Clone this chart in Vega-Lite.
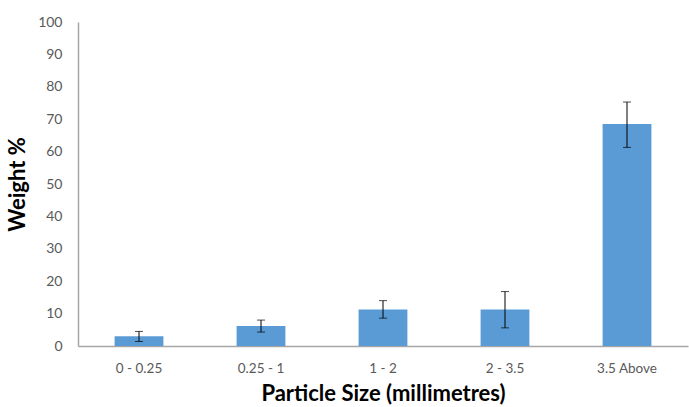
{
  "$schema": "https://vega.github.io/schema/vega-lite/v6.json",
  "autosize": "none",
  "width": 610,
  "height": 324,
  "padding": {"left": 78, "top": 22, "right": 1, "bottom": 61},
  "background": "white",
  "config": {
    "view": {"stroke": null},
    "font": "Lato",
    "axis": {"grid": false, "ticks": false, "domainColor": "#a6a6a6", "domainWidth": 1.5, "labelColor": "#595959", "titleColor": "#000000", "labelFont": "Lato", "titleFont": "Lato", "labelOverlap": false}
  },
  "data": {
    "values": [
      {"size": "0 - 0.25", "weight": 3.0, "lo": 1.4, "hi": 4.5},
      {"size": "0.25 - 1", "weight": 6.2, "lo": 4.3, "hi": 8.0},
      {"size": "1 - 2", "weight": 11.3, "lo": 8.6, "hi": 14.0},
      {"size": "2 - 3.5", "weight": 11.3, "lo": 5.6, "hi": 16.8},
      {"size": "3.5 Above", "weight": 68.5, "lo": 61.3, "hi": 75.3}
    ]
  },
  "encoding": {
    "x": {
      "field": "size", "type": "nominal", "sort": null,
      "scale": {"paddingInner": 0.6, "paddingOuter": 0.3},
      "axis": {"labelAngle": 0, "labelFontSize": 13.5, "labelPadding": 15, "title": "Particle Size (millimetres)", "titleFontSize": 22, "titleFontWeight": "bold", "titlePadding": 9}
    }
  },
  "layer": [
    {
      "mark": {"type": "bar", "color": "#5b9bd5"},
      "encoding": {
        "y": {
          "field": "weight", "type": "quantitative",
          "scale": {"domain": [0, 100], "nice": false},
          "axis": {"values": [0,10,20,30,40,50,60,70,80,90,100], "labelFontSize": 14, "labelPadding": 16, "title": "Weight %", "titleFontSize": 22, "titleFontWeight": "bold", "titlePadding": 8}
        }
      }
    },
    {
      "mark": {"type": "rule", "color": "#000000", "strokeWidth": 1},
      "encoding": {
        "y": {"field": "lo", "type": "quantitative", "axis": {"values": [0,10,20,30,40,50,60,70,80,90,100], "labelFontSize": 14, "labelPadding": 16, "title": "Weight %", "titleFontSize": 22, "titleFontWeight": "bold", "titlePadding": 8}},
        "y2": {"field": "hi"}
      }
    },
    {
      "mark": {"type": "tick", "color": "#000000", "thickness": 1, "size": 8, "orient": "horizontal"},
      "encoding": {"y": {"field": "lo", "type": "quantitative", "axis": {"values": [0,10,20,30,40,50,60,70,80,90,100], "labelFontSize": 14, "labelPadding": 16, "title": "Weight %", "titleFontSize": 22, "titleFontWeight": "bold", "titlePadding": 8}}}
    },
    {
      "mark": {"type": "tick", "color": "#000000", "thickness": 1, "size": 8, "orient": "horizontal"},
      "encoding": {"y": {"field": "hi", "type": "quantitative", "axis": {"values": [0,10,20,30,40,50,60,70,80,90,100], "labelFontSize": 14, "labelPadding": 16, "title": "Weight %", "titleFontSize": 22, "titleFontWeight": "bold", "titlePadding": 8}}}
    }
  ]
}
